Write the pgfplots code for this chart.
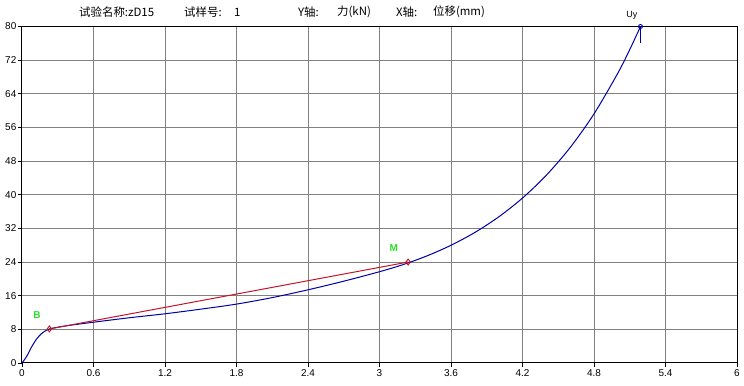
\documentclass[border=0pt]{standalone}
\usepackage{fontspec}
\setmainfont{Liberation Sans}
\newfontfamily\cjk{Noto Sans CJK SC}
\usepackage{pgfplots}
\pgfplotsset{compat=1.18}
\definecolor{curveblue}{RGB}{0,0,165}
\definecolor{linered}{RGB}{195,20,40}
\definecolor{gridgray}{RGB}{128,128,128}
\definecolor{labgreen}{RGB}{40,220,40}
\tikzset{hdr/.style={anchor=west, inner sep=0pt, font=\cjk\fontsize{11.5}{13}\selectfont}}
\begin{document}
\begin{tikzpicture}
\begin{axis}[
  name=ax, at={(0,0)}, anchor=south west,
  scale only axis, width=715bp, height=336.5bp,
  xmin=0, xmax=6, ymin=0, ymax=80,
  xtick={0,0.6,1.2,1.8,2.4,3,3.6,4.2,4.8,5.4,6},
  xticklabels={0,0.6,1.2,1.8,2.4,3,3.6,4.2,4.8,5.4,6},
  ytick={0,8,16,24,32,40,48,56,64,72,80},
  yticklabels={0,8,16,24,32,40,48,56,64,72,80},
  xtick pos=bottom, ytick pos=left,
  tick align=outside, major tick length=4bp,
  tick style={black, line width=0.8bp},
  grid=major, major grid style={gridgray, line width=1bp},
  axis line style={black, line width=1bp},
  ticklabel style={font=\fontsize{10}{12}\selectfont},
  xticklabel style={inner sep=1bp, yshift=-1bp},
  yticklabel style={inner sep=1.5bp},
  /pgf/number format/assume math mode=true,
  clip=false,
]
% main force-displacement curve
\addplot[curveblue, line width=1bp, smooth, tension=0.5] coordinates {
(0,0) (0.04,1.6) (0.08,3.8) (0.12,5.6) (0.16,6.9) (0.2,7.7) (0.23,8.1)
(0.3,8.5) (0.4,8.95) (0.6,9.7) (0.9,10.75) (1.2,11.7) (1.5,12.8)
(1.8,14.0) (2.1,15.55) (2.4,17.4) (2.7,19.45) (3.0,21.7) (3.2,23.41)
(3.4,25.48) (3.6,27.99) (3.8,31.03) (4.0,34.73) (4.2,39.21) (4.4,44.64)
(4.6,51.23) (4.8,59.22) (5.0,68.91) (5.1,74.51) (5.19,80)
};
% secant line B-M
\addplot[linered, line width=1bp] coordinates {(0.23,8.1) (3.24,24.0)};
% markers B and M
\addplot[linered, line width=0.9bp, only marks, mark=diamond, mark size=3bp, mark options={fill=white}] coordinates {(0.23,8.1) (3.24,24.0)};
% Uy marker
\addplot[curveblue, line width=1bp] coordinates {(5.19,80) (5.19,76)};
\addplot[curveblue, only marks, mark=o, mark size=2bp, mark options={fill=white, line width=0.9bp}] coordinates {(5.19,80)};
% labels
\node[labgreen, font=\fontsize{10}{12}\selectfont\bfseries] at (axis cs:0.126,11.4) {B};
\node[labgreen, font=\fontsize{10}{12}\selectfont\bfseries] at (axis cs:3.12,27.3) {M};
\node[black, font=\fontsize{9}{11}\selectfont] at (axis cs:5.117,82.6) {Uy};
% header
\node[hdr] at (axis cs:0.478,83.45) {试验名称:zD15};
\node[hdr] at (axis cs:1.359,83.45) {试样号:};
\node[hdr] at (axis cs:1.779,83.45) {1};
\node[hdr] at (axis cs:2.315,83.45) {Y轴:};
\node[hdr] at (axis cs:2.643,83.45) {力(kN)};
\node[hdr] at (axis cs:3.138,83.45) {X轴:};
\node[hdr] at (axis cs:3.448,83.45) {位移(mm)};
\end{axis}
\pgfresetboundingbox
\path[use as bounding box] ([xshift=-22bp,yshift=-23bp]ax.south west) rectangle ([xshift=7bp,yshift=26.5bp]ax.north east);
\end{tikzpicture}
\end{document}
